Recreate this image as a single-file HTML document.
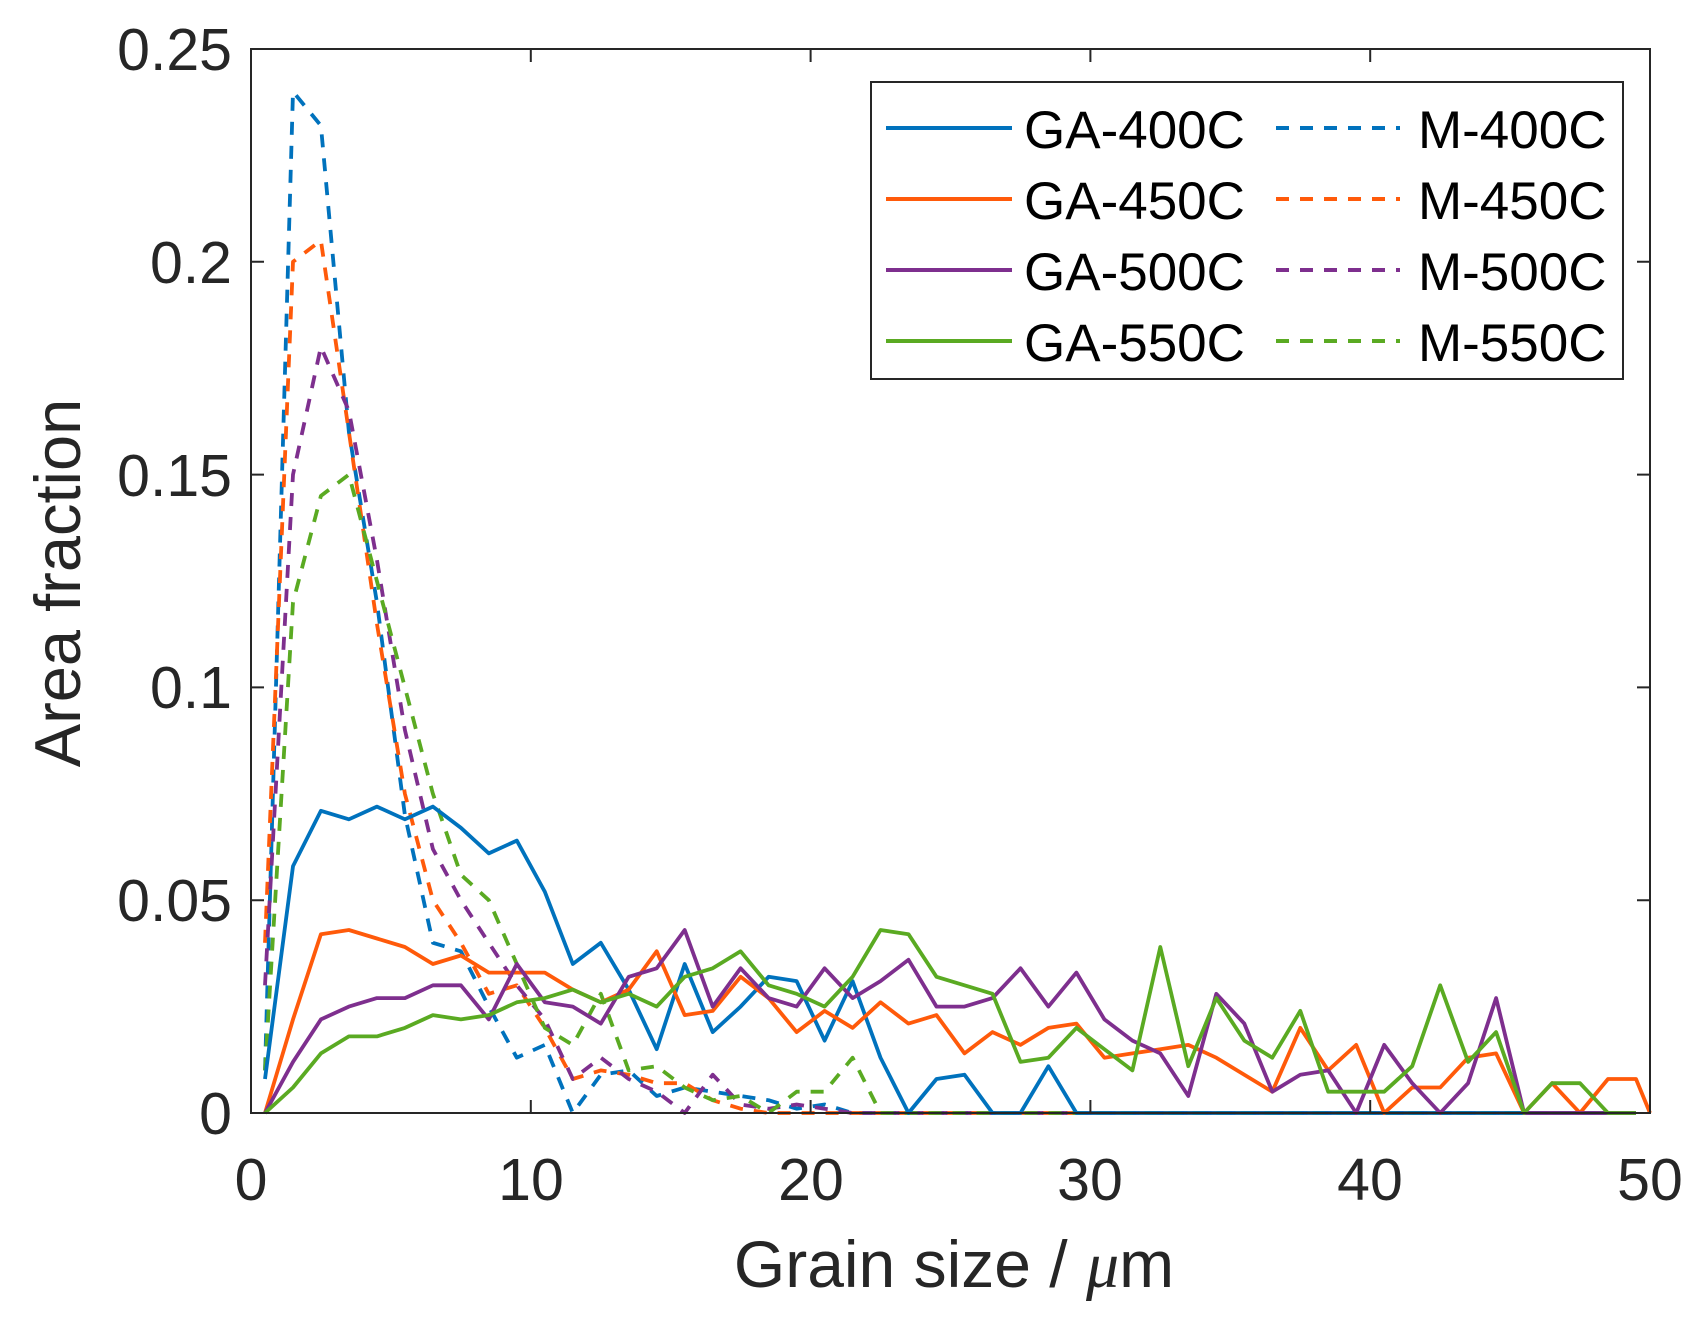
<!DOCTYPE html>
<html><head><meta charset="utf-8"><style>
html,body{margin:0;padding:0;background:#fff;}
svg{display:block;}
text{font-family:"Liberation Sans",Arial,sans-serif;fill:#262626;}
</style></head><body>
<svg id="s" width="1706" height="1326" viewBox="0 0 1706 1326" xmlns="http://www.w3.org/2000/svg">
<rect width="1706" height="1326" fill="#fff"/>
<g id="lines"></g>
<g stroke="#262626" stroke-width="2" fill="none">
<rect x="251" y="49" width="1399" height="1064"/>
<path id="ticks" d=""/>
</g>
<g font-size="59" text-anchor="end">
<text x="232" y="70">0.25</text>
<text x="232" y="283">0.2</text>
<text x="232" y="496">0.15</text>
<text x="232" y="708">0.1</text>
<text x="232" y="921">0.05</text>
<text x="232" y="1134">0</text>
</g>
<g font-size="59" text-anchor="middle">
<text x="251" y="1200">0</text>
<text x="531" y="1200">10</text>
<text x="811" y="1200">20</text>
<text x="1090" y="1200">30</text>
<text x="1370" y="1200">40</text>
<text x="1650" y="1200">50</text>
</g>
<text x="954" y="1287" font-size="66" text-anchor="middle">Grain size / <tspan font-family="Liberation Serif" font-style="italic">μ</tspan>m</text>
<text transform="translate(80,583) rotate(-90)" font-size="65" text-anchor="middle">Area fraction</text>
<rect x="871" y="82" width="752" height="297" fill="#fff" stroke="#262626" stroke-width="2"/>
<g stroke-width="4">
<line x1="886" y1="128" x2="1012" y2="128" stroke="#0072BD"/>
<line x1="886" y1="199" x2="1012" y2="199" stroke="#FF5a0a"/>
<line x1="886" y1="270" x2="1012" y2="270" stroke="#7E2F8E"/>
<line x1="886" y1="341" x2="1012" y2="341" stroke="#5AAA22"/>
<g stroke-dasharray="13,11">
<line x1="1276" y1="128" x2="1400" y2="128" stroke="#0072BD"/>
<line x1="1276" y1="199" x2="1400" y2="199" stroke="#FF5a0a"/>
<line x1="1276" y1="270" x2="1400" y2="270" stroke="#7E2F8E"/>
<line x1="1276" y1="341" x2="1400" y2="341" stroke="#5AAA22"/>
</g></g>
<g font-size="53">
<text x="1024" y="148" style="fill:#000">GA-400C</text>
<text x="1024" y="219" style="fill:#000">GA-450C</text>
<text x="1024" y="290" style="fill:#000">GA-500C</text>
<text x="1024" y="361" style="fill:#000">GA-550C</text>
<text x="1418" y="148" style="fill:#000">M-400C</text>
<text x="1418" y="219" style="fill:#000">M-450C</text>
<text x="1418" y="290" style="fill:#000">M-500C</text>
<text x="1418" y="361" style="fill:#000">M-550C</text>
</g>
</svg>
<script>
(function(){
var L=251,R=1650,B=1113,T=49;
function X(v){return L+(R-L)*v/50;}
function Y(v){return B-(B-T)*v/0.25;}
var d="";
for(var i=0;i<=5;i++){var x=X(i*10);d+="M"+x+" "+B+"v-13M"+x+" "+T+"v13";}
for(var j=0;j<=5;j++){var y=Y(j*0.05);d+="M"+L+" "+y+"h13M"+R+" "+y+"h-13";}
document.getElementById("ticks").setAttribute("d",d);
function pad(a){while(a.length<50)a.push(0);return a;}
var ga400=pad([0.008,0.058,0.071,0.069,0.072,0.069,0.072,0.067,0.061,0.064,0.052,0.035,0.040,0.029,0.015,0.035,0.019,0.025,0.032,0.031,0.017,0.031,0.013,0,0.008,0.009,0,0,0.011,0]);
var ga450=pad([0,0.022,0.042,0.043,0.041,0.039,0.035,0.037,0.033,0.033,0.033,0.029,0.026,0.029,0.038,0.023,0.024,0.032,0.027,0.019,0.024,0.020,0.026,0.021,0.023,0.014,0.019,0.016,0.020,0.021,0.013,0.014,0.015,0.016,0.013,0.009,0.005,0.020,0.010,0.016,0,0.006,0.006,0.013,0.014,0,0.007,0,0.008,0.008]);
var ga500=pad([0,0.012,0.022,0.025,0.027,0.027,0.030,0.030,0.022,0.035,0.026,0.025,0.021,0.032,0.034,0.043,0.025,0.034,0.027,0.025,0.034,0.027,0.031,0.036,0.025,0.025,0.027,0.034,0.025,0.033,0.022,0.017,0.014,0.004,0.028,0.021,0.005,0.009,0.010,0,0.016,0.007,0,0.007,0.027,0]);
var ga550=pad([0,0.006,0.014,0.018,0.018,0.020,0.023,0.022,0.023,0.026,0.027,0.029,0.026,0.028,0.025,0.032,0.034,0.038,0.030,0.028,0.025,0.032,0.043,0.042,0.032,0.030,0.028,0.012,0.013,0.020,0.015,0.010,0.039,0.011,0.027,0.017,0.013,0.024,0.005,0.005,0.005,0.011,0.030,0.012,0.019,0,0.007,0.007,0]);
var m400=pad([0.01,0.240,0.232,0.160,0.120,0.070,0.040,0.038,0.025,0.013,0.016,0,0.009,0.010,0.004,0.006,0.005,0.004,0.003,0.001,0.002,0]);
var m450=pad([0.04,0.200,0.205,0.160,0.115,0.075,0.050,0.040,0.028,0.030,0.020,0.008,0.010,0.009,0.007,0.007,0.003,0.001,0]);
var m500=pad([0.03,0.150,0.180,0.165,0.130,0.090,0.062,0.050,0.040,0.030,0.022,0.008,0.013,0.008,0.005,0,0.009,0.002,0.001,0.002,0.001,0]);
var m550=pad([0.01,0.120,0.145,0.150,0.125,0.100,0.075,0.056,0.050,0.035,0.020,0.016,0.028,0.010,0.011,0.006,0.003,0.004,0,0.005,0.005,0.013,0]);
var series=[[m400,"#0072BD",1],[m450,"#FF5a0a",1],[m500,"#7E2F8E",1],[m550,"#5AAA22",1],
[ga400,"#0072BD",0],[ga450,"#FF5a0a",0],[ga500,"#7E2F8E",0],[ga550,"#5AAA22",0]];
var g=document.getElementById("lines"),ns="http://www.w3.org/2000/svg";
series.forEach(function(s){
 var pts=[];
 for(var k=0;k<50;k++)pts.push(X(k+0.5).toFixed(1)+","+Y(s[0][k]).toFixed(1));
 if(s[0]===ga450)pts.push(X(50)+","+Y(0));
 var p=document.createElementNS(ns,"polyline");
 p.setAttribute("points",pts.join(" "));
 p.setAttribute("fill","none");p.setAttribute("stroke",s[1]);
 p.setAttribute("stroke-width","3.8");p.setAttribute("stroke-linejoin","round");
 if(s[2])p.setAttribute("stroke-dasharray","13,11");
 g.appendChild(p);
});
})();
</script>
</body></html>
